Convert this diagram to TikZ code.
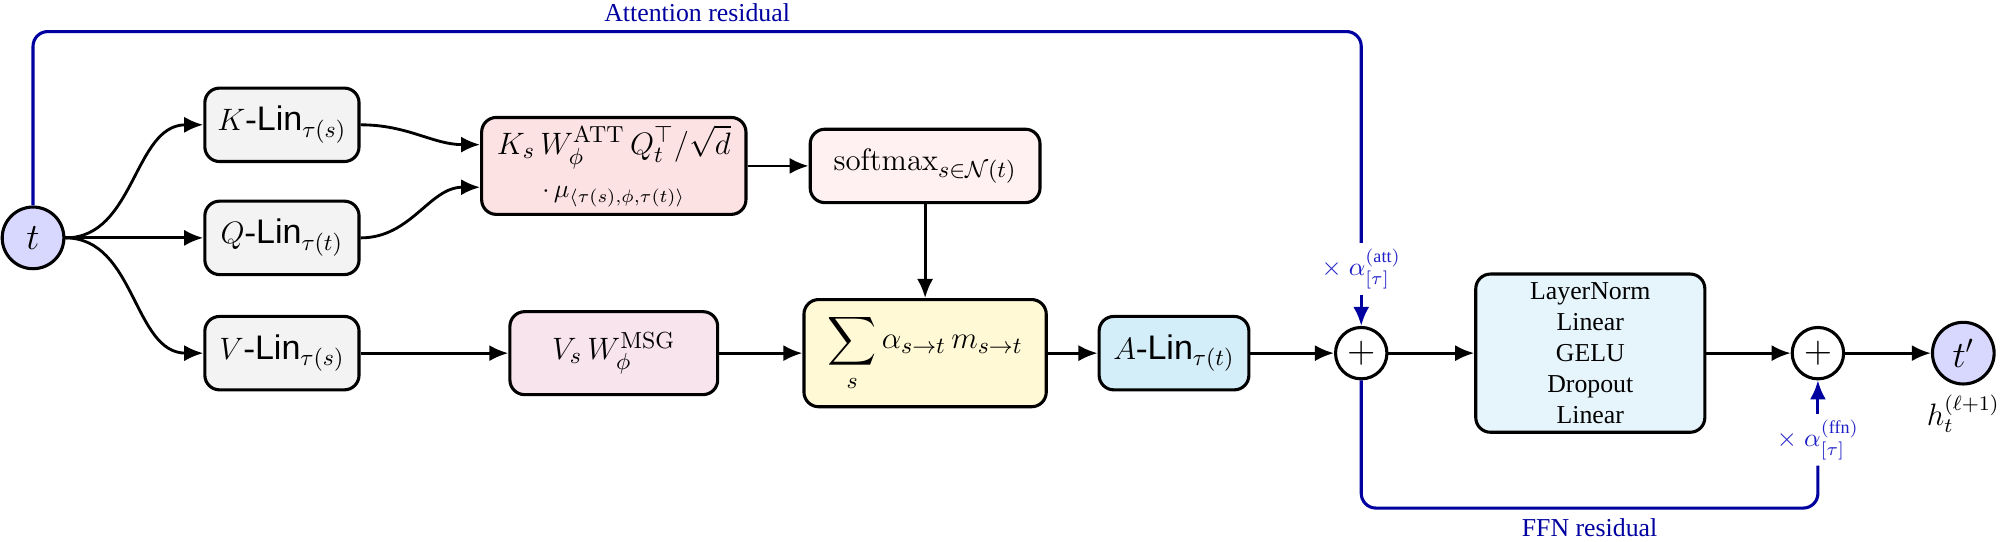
\documentclass[tikz,border=0pt]{standalone}
\usepackage{amsmath}
\usepackage{amssymb}
\usepackage[no-math]{fontspec}
\setmainfont{Liberation Serif}
\setsansfont{Liberation Sans}
\usetikzlibrary{arrows.meta}
\usetikzlibrary{positioning}

\definecolor{tokblue}{HTML}{D8D8FF}
\definecolor{lingray}{HTML}{F3F3F3}
\definecolor{attpink}{HTML}{FDE2E4}
\definecolor{softpink}{HTML}{FFF0F2}
\definecolor{msgpink}{HTML}{F8E4EC}
\definecolor{sumyellow}{HTML}{FFF9D5}
\definecolor{alinblue}{HTML}{D3EEF9}
\definecolor{ffnblue}{HTML}{E6F5FC}
\definecolor{resblue}{HTML}{0000A0}
\definecolor{alphablue}{HTML}{2020C8}

\begin{document}
\begin{tikzpicture}[
    >={Latex[length=2.6mm,width=2.2mm]},
    box/.style={draw, line width=1.2pt, rounded corners=2mm, align=center, font=\fontsize{13.2}{15.8}\selectfont},
    linbox/.style={box, fill=lingray, minimum width=2.1cm, minimum height=1cm},
    tok/.style={circle, draw, line width=1.2pt, fill=tokblue, minimum size=0.84cm, inner sep=0pt, font=\Large},
    addnode/.style={circle, draw, line width=1.2pt, fill=white, minimum size=0.7cm, inner sep=0pt, font=\Large},
    flow/.style={->, line width=1.1pt},
    resid/.style={draw=resblue, line width=1.2pt},
    alphalbl/.style={text=alphablue, inner sep=2pt},
    node distance=1.6cm and 1.6cm
]
    \useasboundingbox (-0.45,-4.13) rectangle (26.79,3.24);

    % input node and the three projections
    \node[tok] (t) at (0,0) {$t$};
    \node[linbox] (klin) at (3.39,1.54) {$K$-\textsf{Lin}$_{\tau(s)}$};
    \node[linbox] (qlin) at (3.39,0) {$Q$-\textsf{Lin}$_{\tau(t)}$};
    \node[linbox] (vlin) at (3.39,-1.57) {$V$-\textsf{Lin}$_{\tau(s)}$};

    \draw[flow] (t.east) to[out=0, in=180] (klin.west);
    \draw[flow] (t.east) -- (qlin.west);
    \draw[flow] (t.east) to[out=0, in=180] (vlin.west);

    % attention scores
    \node[box, fill=attpink, minimum width=3.6cm, minimum height=1.32cm, inner sep=2pt] (att) at (7.91,0.98)
        {$K_s\,W_\phi^{\mathrm{ATT}}\,Q_t^{\top}/\sqrt{d}$\\[1pt] {\normalsize $\cdot\,\mu_{\langle\tau(s),\phi,\tau(t)\rangle}$}};
    \node[box, fill=softpink, minimum width=3.13cm, minimum height=1cm] (soft) at (12.15,0.98)
        {$\mathrm{softmax}_{s\in\mathcal{N}(t)}$};

    \draw[flow] (klin.east) to[out=0, in=180] ([yshift=2.9mm]att.west);
    \draw[flow] (qlin.east) to[out=0, in=180] ([yshift=-2.9mm]att.west);
    \draw[flow] (att) -- (soft);

    % messages and aggregation
    \node[box, fill=msgpink, minimum width=2.83cm, minimum height=1.13cm] (msg) at (7.91,-1.57)
        {$V_s\,W_{\phi}^{\mathrm{MSG}}$};
    \node[box, fill=sumyellow, minimum width=3.3cm, minimum height=1.46cm] (agg) at (12.15,-1.57)
        {$\displaystyle\sum_s \alpha_{s\to t}\,m_{s\to t}$};
    \node[box, fill=alinblue, minimum width=2.04cm, minimum height=1cm] (alin) at (15.54,-1.57)
        {$A$-\textsf{Lin}$_{\tau(t)}$};

    \draw[flow] (soft) -- (agg);
    \draw[flow] (vlin) -- (msg);
    \draw[flow] (msg) -- (agg);
    \draw[flow] (agg) -- (alin);

    % residual adds and feed-forward block
    \node[addnode] (add1) at (18.09,-1.57) {$+$};
    \node[box, fill=ffnblue, minimum width=3.12cm, minimum height=2.14cm, font=\normalsize] (ffn) at (21.21,-1.57)
        {LayerNorm\\Linear\\GELU\\Dropout\\Linear};
    \node[addnode] (add2) at (24.31,-1.57) {$+$};
    \node[tok] (tout) at (26.29,-1.57) {$t'$};
    \node[below=0mm of tout, font=\large] (hnext) {$h_t^{(\ell+1)}$};

    \draw[flow] (alin) -- (add1);
    \draw[flow] (add1) -- (ffn);
    \draw[flow] (ffn) -- (add2);
    \draw[flow] (add2) -- (tout);

    % attention residual
    \node[alphalbl] (aatt) at (18.09,-0.42) {$\times\;\alpha^{(\text{att})}_{[\tau]}$};
    \coordinate (attcorner) at (18.09,2.81);
    \draw[resid, rounded corners=2mm] (t.north) |- node[pos=0.75, above, text=resblue] {Attention residual} (attcorner) -- (aatt.north);
    \draw[resid, ->] (aatt.south) -- (add1.north);

    % FFN residual
    \node[alphalbl] (affn) at (24.31,-2.75) {$\times\;\alpha^{(\text{ffn})}_{[\tau]}$};
    \coordinate (ffncorner) at (24.31,-3.68);
    \draw[resid, rounded corners=2mm] (add1.south) |- node[pos=0.75, below, text=resblue] {FFN residual} (ffncorner) -- (affn.south);
    \draw[resid, ->] (affn.north) -- (add2.south);
\end{tikzpicture}
\end{document}
